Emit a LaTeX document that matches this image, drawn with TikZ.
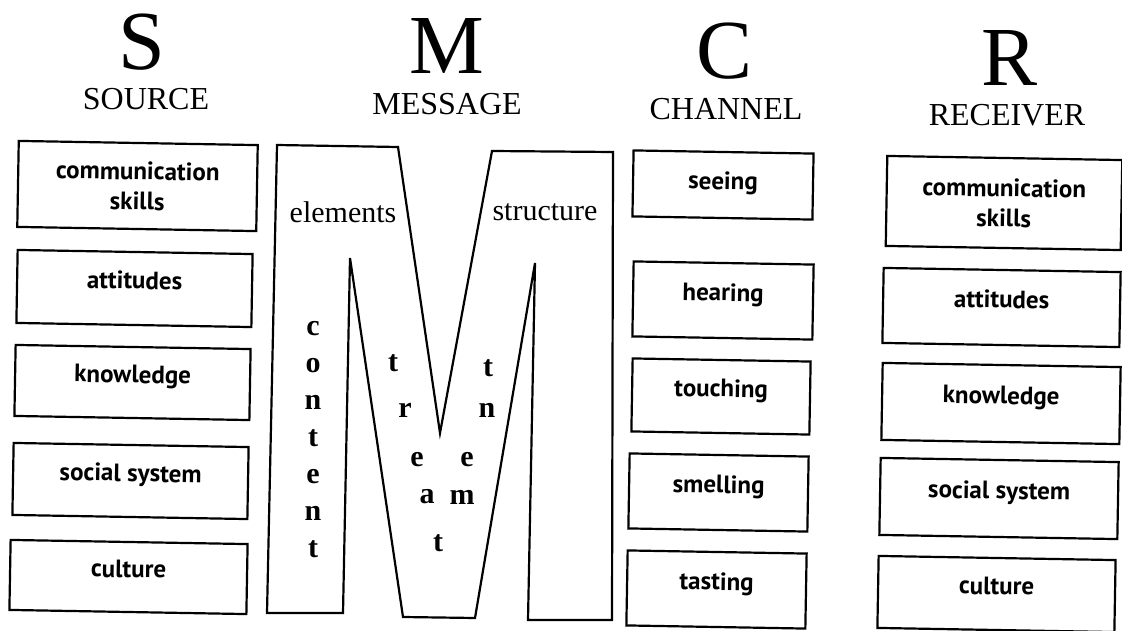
\documentclass[tikz,border=0pt]{standalone}
\usepackage{fontspec}
\setmainfont{Liberation Serif}
\newfontfamily\boxfont{PT Sans}
\usetikzlibrary{positioning}

\tikzset{
  bigletter/.style={inner sep=0pt, font=\fontsize{84}{84}\selectfont},
  headword/.style={inner sep=0pt, font=\fontsize{32}{32}\selectfont},
  box/.style={draw, line width=2.2pt, inner sep=0pt, align=center, rotate=-1,
    font=\boxfont\bfseries\fontsize{25}{30}\selectfont},
  onebox/.style={box, text height=16pt, text depth=15pt},
  mword/.style={font=\fontsize{30}{30}\selectfont},
  mletter/.style={font=\bfseries\fontsize{30}{37}\selectfont, align=center, inner sep=0pt}
}

\begin{document}
\begin{tikzpicture}[x=1pt, y=1pt]
\useasboundingbox (0, 0) rectangle (1122, -631);

% headings
\node[bigletter] (s) at (142, -42) {S};
\node[headword] (source) at (146, -99) {SOURCE};
\node[bigletter] (m) at (447, -46) {M};
\node[headword] (message) at (447, -104) {MESSAGE};
\node[bigletter] (c) at (725, -51) {C};
\node[headword] (channel) at (726, -109) {CHANNEL};
\node[bigletter] (r) at (1010, -58) {R};
\node[headword] (receiver) at (1007, -115) {RECEIVER};

% source
\node[box, minimum width=239pt, minimum height=86pt] (scomm) at (137.5, -186) {communication\\skills};
\node[onebox, minimum width=235pt, minimum height=73pt] (satt) at (134.5, -288.5) {attitudes};
\node[onebox, minimum width=235pt, minimum height=71pt] (sknow) at (132.5, -382.5) {knowledge};
\node[onebox, minimum width=235pt, minimum height=72pt] (ssoc) at (130.5, -481) {social system};
\node[onebox, minimum width=237pt, minimum height=70pt] (scult) at (128.5, -577) {culture};

% message
\coordinate (m1) at (277, -145);
\coordinate (m2) at (398, -147);
\coordinate (m3) at (440, -433);
\coordinate (m4) at (492, -151);
\coordinate (m5) at (613, -152);
\coordinate (m6) at (612, -620);
\coordinate (m7) at (528, -620);
\coordinate (m8) at (535, -263);
\coordinate (m9) at (475, -618);
\coordinate (m10) at (403, -617);
\coordinate (m11) at (350, -258);
\coordinate (m12) at (343, -613);
\coordinate (m13) at (267, -613);
\draw[line width=2.2pt] (m1) -- (m2) -- (m3) -- (m4) -- (m5) -- (m6) -- (m7)
  -- (m8) -- (m9) -- (m10) -- (m11) -- (m12) -- (m13) -- cycle;
\node[mword] (elements) at (343, -212) {elements};
\node[mword] (structure) at (545, -212) {structure};
\node[mletter] (content) at (313, -440) {c\\o\\n\\t\\e\\n\\t};
\node[mletter] (tr1) at (393, -363) {t};
\node[mletter] (tr2) at (405, -410) {r};
\node[mletter] (tr3) at (417, -460) {e};
\node[mletter] (tr4) at (427, -497) {a};
\node[mletter] (tr5) at (438, -543) {t};
\node[mletter] (tr6) at (462, -497) {m};
\node[mletter] (tr7) at (467, -460) {e};
\node[mletter] (tr8) at (487, -410) {n};
\node[mletter] (tr9) at (488, -368) {t};

% channel
\node[onebox, minimum width=180pt, minimum height=66pt, text depth=7pt] (csee) at (723, -185) {seeing};
\node[onebox, minimum width=180pt, minimum height=75pt] (chear) at (723, -300.5) {hearing};
\node[onebox, minimum width=178pt, minimum height=73pt] (ctouch) at (721, -396.5) {touching};
\node[onebox, minimum width=179pt, minimum height=75pt] (csmell) at (718.5, -492.5) {smelling};
\node[onebox, minimum width=179pt, minimum height=75pt] (ctaste) at (716.5, -589.5) {tasting};

% receiver
\node[box, minimum width=235pt, minimum height=90pt] (rcomm) at (1004, -203) {communication\\skills};
\node[onebox, minimum width=237pt, minimum height=75pt] (ratt) at (1001.5, -307.5) {attitudes};
\node[onebox, minimum width=238pt, minimum height=77pt] (rknow) at (1001, -403.5) {knowledge};
\node[onebox, minimum width=238pt, minimum height=77pt] (rsoc) at (999, -498.5) {social system};
\node[onebox, minimum width=237pt, minimum height=72pt] (rcult) at (996.5, -594) {culture};
\end{tikzpicture}
\end{document}
